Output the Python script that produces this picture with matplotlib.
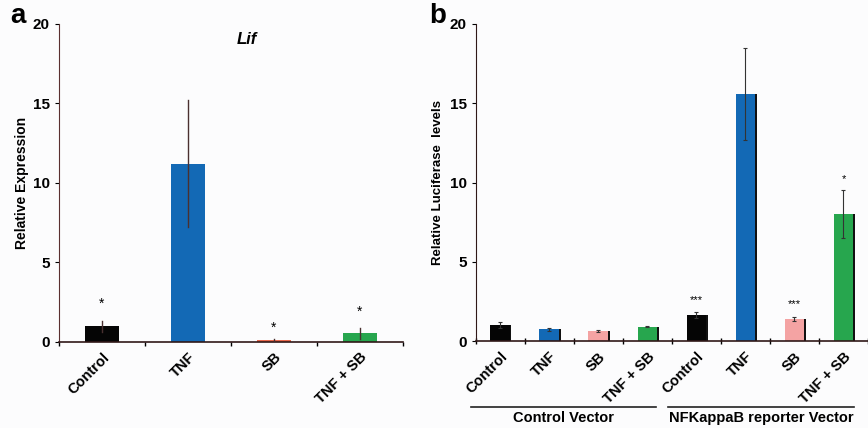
import matplotlib.pyplot as plt

plt.rcParams["font.family"] = ["Liberation Sans", "DejaVu Sans"]
plt.rcParams["font.weight"] = "bold"

# panel a data (Lif qPCR)
cats_a = ["Control", "TNF", "SB", "TNF + SB"]
vals_a = [1.0, 11.2, 0.12, 0.55]
err_a = [0.35, 4.0, 0.08, 0.35]
stars_a = ["*", "", "*", "*"]
star_y_a = [2.4, None, 0.9, 1.9]
cols_a = ["#050505", "#1369b5", "#e8674c", "#27a64e"]

# panel b data (luciferase)
cats_b = ["Control", "TNF", "SB", "TNF + SB", "Control", "TNF", "SB", "TNF + SB"]
vals_b = [1.0, 0.75, 0.65, 0.9, 1.65, 15.6, 1.4, 8.0]
err_b = [0.2, 0.1, 0.06, 0.03, 0.2, 2.9, 0.15, 1.5]
stars_b = ["", "", "", "", "***", "", "***", "*"]
star_y_b = [None, None, None, None, 2.6, None, 2.35, 10.2]
cols_b = ["#050505", "#1369b5", "#f4a3a3", "#27a64e"] * 2
groups_b = ["Control Vector", "NFKappaB reporter Vector"]

fig = plt.figure(figsize=(8.68, 4.28), dpi=100, facecolor="#fcfcfd")

# ---- panel a
ax1 = fig.add_axes([0.068, 0.201, 0.396, 0.743])
ax1.set_facecolor("#fcfcfd")
x_a = list(range(len(cats_a)))
ax1.bar(x_a, vals_a, width=0.4, color=cols_a, zorder=2)
for i in x_a:
    ax1.plot([i, i], [vals_a[i] - err_a[i], vals_a[i] + err_a[i]],
             color="#4a3030", lw=1.0, zorder=3)
    if stars_a[i]:
        ax1.text(i, star_y_a[i], stars_a[i], ha="center", va="center",
                 fontsize=10, fontweight="normal")
ax1.text(1.68, 19.0, "Lif", style="italic", fontsize=12, ha="center", va="center")
ax1.set_xlim(-0.5, 3.5)
ax1.set_ylim(0, 20)
ax1.set_yticks([0, 5, 10, 15, 20])
ax1.set_xticks([-0.5, 0.5, 1.5, 2.5, 3.5])
ax1.set_xticklabels([])
ax1.tick_params(axis="x", direction="out", length=3, width=1)
ax1.tick_params(axis="y", direction="out", length=3, labelsize=11)
for lab in ax1.get_yticklabels():
    lab.set_fontweight("bold")
ax1.set_xticks(x_a, minor=True)
ax1.set_xticklabels(cats_a, minor=True, rotation=45, ha="right",
                    rotation_mode="anchor", fontsize=10.5, fontweight="bold")
ax1.tick_params(axis="x", which="minor", length=0, pad=6)
ax1.set_ylabel("Relative Expression", fontsize=10, fontweight="bold", labelpad=3)
for s in ["top", "right"]:
    ax1.spines[s].set_visible(False)
ax1.spines["left"].set_color("#5a3030")
ax1.spines["left"].set_linewidth(0.8)
ax1.spines["bottom"].set_color("#301818")
ax1.spines["bottom"].set_linewidth(1.2)

# ---- panel b
ax2 = fig.add_axes([0.548, 0.203, 0.452, 0.741])
ax2.set_facecolor("#fcfcfd")
x_b = list(range(len(cats_b)))
# dark shadow on the right of each bar
ax2.bar([i + 0.03 for i in x_b], vals_b, width=0.4, color="#111111", zorder=1)
ax2.bar(x_b, vals_b, width=0.4, color=cols_b, zorder=2)
ax2.errorbar(x_b, vals_b, yerr=err_b, fmt="none", ecolor="#333333",
             elinewidth=0.8, capsize=1.5, capthick=0.8, zorder=3)
for i in x_b:
    if stars_b[i]:
        ax2.text(i, star_y_b[i], stars_b[i], ha="center", va="center",
                 fontsize=8, fontweight="normal")
ax2.set_xlim(-0.5, 7.5)
ax2.set_ylim(0, 20)
ax2.set_yticks([0, 5, 10, 15, 20])
ax2.set_xticks([i - 0.5 for i in range(9)])
ax2.set_xticklabels([])
ax2.tick_params(axis="x", direction="inout", length=5, width=1)
ax2.tick_params(axis="y", direction="out", length=3, labelsize=11)
for lab in ax2.get_yticklabels():
    lab.set_fontweight("bold")
ax2.set_xticks(x_b, minor=True)
ax2.set_xticklabels(cats_b, minor=True, rotation=45, ha="right",
                    rotation_mode="anchor", fontsize=10.5, fontweight="bold")
ax2.tick_params(axis="x", which="minor", length=0, pad=6)
ax2.set_ylabel("Relative Luciferase  levels", fontsize=9.5, fontweight="bold",
               labelpad=4)
for s in ["top", "right"]:
    ax2.spines[s].set_visible(False)
ax2.spines["left"].set_color("#301818")
ax2.spines["bottom"].set_color("#301818")
ax2.spines["bottom"].set_linewidth(1.2)

# group brackets under panel b
trans = ax2.get_xaxis_transform()
ax2.plot([-0.6, 3.18], [-0.208, -0.208], color="#222222", lw=1.2,
         transform=trans, clip_on=False)
ax2.plot([3.43, 7.22], [-0.208, -0.208], color="#222222", lw=1.2,
         transform=trans, clip_on=False)
ax2.text(1.3, -0.242, groups_b[0], transform=trans, ha="center", va="center",
         fontsize=10.5, fontweight="bold")
ax2.text(5.32, -0.242, groups_b[1], transform=trans, ha="center", va="center",
         fontsize=10.5, fontweight="bold")

# panel letters
fig.text(0.012, 0.962, "a", fontsize=20, fontweight="bold", va="center")
fig.text(0.495, 0.962, "b", fontsize=20, fontweight="bold", va="center")

fig.savefig("out.png", dpi=100, facecolor=fig.get_facecolor())
